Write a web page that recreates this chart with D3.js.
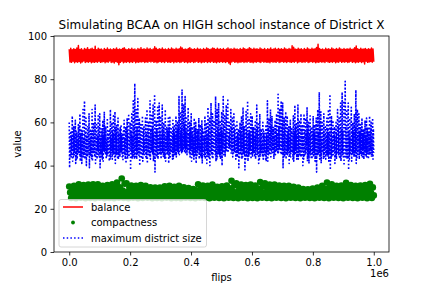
<!DOCTYPE html>
<html>
<head>
<meta charset="utf-8">
<script src="https://cdn.jsdelivr.net/npm/d3@7"></script>
<style>
  html, body { margin: 0; padding: 0; background: #fff; }
  svg { display: block; font-family: "DejaVu Sans", sans-serif; }
</style>
</head>
<body>
<svg id="chart" width="432" height="288"></svg>
<script>
const titleText = "Simulating BCAA on HIGH school instance of District X";
const xLabel = "flips";
const yLabel = "value";
const xTicks = [0, 200000, 400000, 600000, 800000, 1000000];
const yTicks = [0, 20, 40, 60, 80, 100];
const seriesNames = ["balance", "compactness", "maximum district size"];
const maxFlips = 1000000;

const balance = [
  93.9,88.0, 94.3,87.8, 93.6,88.3, 94.1,87.6, 93.8,88.1, 94.4,87.9, 95.6,88.2, 93.7,87.5, 94.1,88.0, 93.5,88.4,
  94.2,87.7, 93.9,88.1, 94.6,87.9, 93.7,88.2, 94.0,87.6, 94.3,88.0, 93.8,87.8, 95.2,88.1, 93.6,87.9, 94.3,88.3,
  93.9,87.8, 94.0,88.0, 93.5,88.2, 94.2,87.6, 93.8,88.1, 94.4,87.9, 93.7,88.4, 94.0,87.7, 93.6,88.0, 94.1,87.5,
  93.9,88.2, 94.5,87.9, 93.7,86.7, 94.0,87.8, 93.8,88.3, 94.2,87.6, 94.6,88.0, 93.9,87.9, 93.6,88.2, 94.1,87.7,
  93.8,88.1, 94.3,87.8, 93.7,88.3, 94.0,87.6, 93.5,88.0, 94.2,87.9, 93.9,88.1, 94.6,88.0, 93.8,88.2, 94.1,87.7,
  93.7,88.1, 94.4,87.9, 93.9,88.3, 94.2,88.0, 93.6,88.3, 94.0,87.8, 95.0,88.1, 94.3,87.6, 93.7,88.0, 94.1,88.2,
  93.9,87.9, 94.5,88.1, 93.8,87.7, 94.0,88.3, 93.6,87.9, 94.2,88.0, 93.8,87.8, 94.4,88.2, 94.0,87.6, 93.7,88.1,
  94.3,87.9, 93.9,88.2, 94.1,87.7, 94.9,88.0, 94.4,88.3, 93.8,87.8, 94.0,88.1, 93.7,87.6, 94.2,88.0, 94.6,87.9,
  94.0,88.2, 93.8,87.7, 94.1,88.0, 93.7,88.3, 94.3,87.8, 93.9,88.1, 94.0,87.6, 93.6,88.0, 94.2,87.9, 93.8,88.2,
  94.5,87.7, 94.1,88.1, 93.7,87.9, 94.0,88.3, 94.4,87.8, 94.2,88.0, 93.8,87.6, 94.3,88.1, 93.9,87.9, 94.1,88.2,
  93.8,87.9, 94.2,88.1, 93.6,87.7, 94.0,88.2, 94.5,87.5, 93.9,86.8, 94.1,88.0, 93.7,88.3, 94.3,87.8, 93.9,88.1,
  94.0,87.6, 93.6,88.0, 94.2,87.9, 93.8,88.2, 94.4,87.7, 94.1,88.1, 93.7,87.9, 94.0,88.3, 94.6,87.8, 94.2,88.0,
  93.8,87.6, 94.3,88.1, 93.9,87.9, 94.1,88.2, 93.7,88.0, 94.4,87.7, 94.0,88.3, 93.8,87.9, 94.2,88.1, 93.6,87.8,
  94.1,88.0, 93.9,87.6, 94.5,88.2, 93.8,87.9, 94.0,88.1, 94.3,87.8, 93.7,88.3, 94.2,87.7, 93.9,88.0, 94.1,88.2,
  93.8,87.9, 94.4,88.1, 94.0,87.7, 93.7,88.2, 94.2,88.0, 93.9,87.8, 95.5,88.1, 94.8,87.9, 94.0,88.3, 93.8,87.6,
  94.3,88.0, 93.9,88.2, 94.1,87.8, 93.6,88.1, 94.2,87.9, 93.8,88.3, 94.5,87.7, 94.0,88.0, 93.7,88.2, 94.3,87.9,
  93.9,88.1, 94.1,87.6, 94.7,88.0, 96.2,87.8, 94.2,88.2, 93.8,87.9, 94.0,88.1, 93.6,87.7, 94.3,88.3, 93.9,88.0,
  94.1,87.8, 93.7,88.1, 94.4,87.9, 94.0,88.2, 93.8,87.6, 94.2,88.0, 93.9,87.9, 94.5,88.3, 94.0,87.8, 93.7,88.1,
  94.2,87.9, 93.8,88.2, 94.1,87.7, 93.9,88.0, 94.3,88.3, 93.7,87.8, 94.0,88.1, 94.6,87.6, 95.4,88.0, 94.1,87.9,
  93.8,88.2, 94.3,87.7, 93.9,88.1, 94.0,87.0, 94.2,88.3, 93.7,87.8, 94.1,88.0, 93.9,88.2, 94.4,87.9, 94.0,88.1
];

const compactness = [
  30.3,27.5,25.0,29.2,26.2, 30.6,27.7,24.9,29.4,26.4, 31.4,27.4,25.1,29.6,26.1, 31.0,27.8,24.9,29.3,26.4,
  31.2,27.5,25.0,29.6,26.2, 31.4,27.7,24.9,29.4,26.3, 31.4,27.4,25.1,29.7,26.1, 30.6,27.8,24.9,29.2,26.4,
  31.0,27.5,25.0,29.5,26.2, 31.4,27.7,24.9,29.8,26.4, 32.1,27.9,25.1,30.0,26.2, 34.0,28.4,25.0,31.6,26.6,
  31.8,27.8,24.9,29.9,26.3, 30.8,27.5,25.1,29.4,26.1, 30.6,27.4,24.9,29.3,26.4, 31.0,27.7,25.0,29.6,26.2,
  30.6,27.4,25.1,29.3,26.3, 30.0,27.6,24.9,29.0,26.1, 29.8,27.3,25.0,28.8,26.4, 29.8,27.5,24.9,28.9,26.2,
  30.4,27.7,25.1,29.2,26.3, 30.6,27.4,24.9,29.4,26.1, 30.2,27.6,25.0,29.1,26.4, 30.6,27.8,24.9,29.3,26.2,
  30.0,27.4,25.1,29.0,26.4, 29.6,27.5,25.0,28.8,26.2, 29.2,27.3,24.9,28.6,26.3, 31.4,27.7,25.1,29.6,26.1,
  30.8,27.5,25.0,29.4,26.3, 30.6,27.4,24.9,29.3,26.2, 31.2,27.8,25.1,29.7,26.4, 30.2,27.5,25.0,29.1,26.2,
  30.4,27.6,24.9,29.2,26.3, 30.8,27.4,25.1,29.5,26.1, 33.0,28.2,25.0,30.8,26.5, 31.8,27.8,24.9,30.0,26.3,
  31.2,27.5,25.1,29.7,26.2, 31.0,27.7,24.9,29.5,26.4, 31.2,27.4,25.0,29.8,26.2, 30.8,27.6,24.9,29.4,26.3,
  32.4,27.9,25.1,30.4,26.1, 31.8,27.7,25.0,30.0,26.3, 31.2,27.4,24.9,29.7,26.2, 31.2,27.8,25.1,29.8,26.4,
  30.8,27.4,25.0,29.4,26.2, 30.6,27.5,24.9,29.3,26.3, 30.6,27.7,25.1,29.2,26.1, 30.2,27.4,25.0,29.0,26.3,
  29.8,27.3,24.9,28.8,26.2, 29.2,27.1,25.1,28.5,26.3, 29.0,27.2,25.0,28.4,26.1, 29.4,27.3,24.9,28.6,26.3,
  29.8,27.5,25.1,28.9,26.2, 30.6,27.6,25.0,29.3,26.4, 32.2,27.9,24.9,30.2,26.3, 31.4,27.7,25.1,29.8,26.2,
  30.6,27.4,25.0,29.4,26.3, 30.8,27.6,24.9,29.5,26.1, 32.0,27.9,25.1,30.1,26.4, 31.0,27.5,25.0,29.6,26.2,
  30.6,27.4,24.9,29.4,26.4, 30.8,27.6,25.1,29.5,26.2, 31.0,27.8,24.9,29.7,26.3, 31.6,27.5,25.0,29.9,26.2
];

const maxDistrictSize = [
  60,39,55,45, 56,44,53,47, 63,42,57,44, 58,45,54,46, 61,41,56,43, 55,43,52,46, 59,46,58,45, 64,42,54,44, 57,41,56,47, 66,44,53,45,
  70,43,56,46, 62,40,54,44, 58,45,57,47, 64,39,53,45, 57,44,55,43, 66,42,58,46, 60,46,52,44, 68,41,56,45, 59,43,54,47, 63,45,57,44,
  64,39,53,46, 57,44,56,43, 61,42,54,47, 65,46,58,45, 58,43,52,44, 62,45,55,46, 56,42,57,43, 66,44,53,47, 60,43,56,45, 63,46,54,44,
  65,41,57,45, 59,45,53,43, 62,43,55,46, 57,44,58,47, 59,46,54,44, 55,42,56,45, 61,45,52,43, 58,41,57,46, 62,43,55,44, 64,44,53,47,
  60,38,56,46, 64,43,54,44, 70,45,58,43, 78,44,55,47, 66,43,57,45, 71,46,53,44, 62,40,56,46, 59,44,54,43, 63,42,57,45, 58,45,52,47,
  62,44,55,43, 66,41,57,46, 60,45,53,44, 70,43,56,47, 64,46,58,45, 68,42,54,43, 73,37,55,46, 61,44,57,44, 67,43,53,47, 69,45,56,45,
  63,43,54,46, 68,46,57,44, 60,44,55,43, 66,42,53,47, 58,45,56,45, 62,41,58,44, 63,44,52,46, 57,46,55,43, 61,43,57,47, 59,45,54,45,
  63,44,56,47, 60,46,58,45, 72,45,55,48, 65,47,57,46, 75,46,54,47, 68,48,59,46, 72,46,56,48, 62,45,58,47, 67,47,55,46, 60,44,57,47,
  64,42,55,45, 58,45,53,43, 62,44,57,46, 60,41,54,44, 57,46,56,47, 62,43,52,45, 59,44,55,43, 61,41,57,46, 56,45,53,44, 63,43,56,47,
  60,41,54,45, 67,44,57,43, 62,40,55,46, 69,45,58,44, 64,43,53,47, 61,46,56,45, 72,42,54,43, 66,44,57,46, 69,45,55,44, 61,43,58,47,
  65,40,56,46, 72,45,58,48, 63,44,55,47, 68,47,57,46, 71,46,54,48, 60,48,56,47, 66,45,58,46, 62,44,55,45, 64,46,57,47, 59,43,53,45,
  61,44,55,46, 57,39,53,43, 60,45,56,47, 63,43,54,44, 67,46,58,45, 58,38,52,43, 65,44,57,46, 70,42,55,44, 62,45,56,47, 64,43,54,45,
  63,44,57,46, 58,46,54,44, 61,43,56,47, 68,45,58,45, 60,41,53,43, 64,44,55,46, 57,46,52,44, 60,43,56,47, 55,45,53,43, 59,42,54,46,
  70,42,57,45, 62,45,55,47, 66,44,58,46, 63,46,56,48, 58,43,54,45, 61,45,57,47, 64,47,55,46, 73,46,58,48, 66,47,56,46, 70,45,57,47,
  69,39,55,44, 62,44,57,46, 65,43,54,45, 63,45,56,47, 58,41,53,44, 61,44,57,46, 57,46,55,43, 63,42,56,45, 68,45,58,47, 60,43,54,44,
  68,43,56,46, 61,45,54,44, 64,44,57,47, 59,40,53,43, 64,44,56,45, 62,46,55,47, 67,42,58,44, 60,41,54,46, 63,45,57,43, 58,43,55,46,
  63,44,56,46, 59,42,54,44, 62,37,57,45, 66,45,55,47, 74,43,58,44, 65,41,53,46, 60,46,56,43, 64,44,55,47, 58,43,54,45, 62,45,57,44,
  66,42,55,45, 73,38,57,43, 63,44,54,46, 61,45,56,47, 58,41,53,44, 60,43,55,46, 66,46,58,45, 62,44,54,43, 69,42,57,46, 74,45,56,44,
  70,40,55,45, 79,44,58,46, 66,43,54,44, 69,38,56,43, 62,45,53,47, 67,42,57,45, 60,46,55,44, 64,44,58,46, 75,41,54,43, 66,45,56,47,
  64,43,55,46, 59,45,57,44, 62,44,54,47, 57,43,56,45, 61,46,53,44, 62,44,57,46, 58,43,55,45, 63,45,56,47, 60,44,54,44, 62,43,57,46
];

// ---------- layout ----------
const svg = d3.select("#chart");
const mLeft = 54, mRight = 389, mTop = 36, mBottom = 252;

const x = d3.scaleLinear().domain([-50000, 1050000]).range([mLeft, mRight]);
const y = d3.scaleLinear().domain([0, 100]).range([mBottom, mTop]);

const flipsOf = (arr) => arr.map((v, i) => ({ f: i * maxFlips / (arr.length - 1), v }));

const plot = svg.append("g");
plot.append("clipPath").attr("id", "clip")
  .append("rect").attr("x", mLeft).attr("y", mTop).attr("width", mRight - mLeft).attr("height", mBottom - mTop);
const dataG = plot.append("g").attr("clip-path", "url(#clip)");

const line = d3.line().x(d => x(d.f)).y(d => y(d.v));

// balance (red solid)
dataG.append("path").datum(flipsOf(balance))
  .attr("d", line).attr("fill", "none").attr("stroke", "#ff0000")
  .attr("stroke-width", 1.5).attr("stroke-linejoin", "round");

// compactness (green dots)
dataG.append("g").selectAll("circle").data(flipsOf(compactness)).join("circle")
  .attr("cx", d => x(d.f)).attr("cy", d => y(d.v)).attr("r", 3.3)
  .attr("fill", "#008000");

// maximum district size (blue dotted)
const dotPattern = "1.6,2";
dataG.append("path").datum(flipsOf(maxDistrictSize))
  .attr("d", line).attr("fill", "none").attr("stroke", "#0000ff")
  .attr("stroke-width", 1.6).attr("stroke-linejoin", "round")
  .attr("stroke-dasharray", dotPattern);

// ---------- axes ----------
const xAxis = svg.append("g").attr("transform", `translate(0,${mBottom})`)
  .call(d3.axisBottom(x).tickValues(xTicks).tickSize(3.5).tickPadding(3.5)
    .tickFormat(d => (d / 1e6).toFixed(1)));
const yAxis = svg.append("g").attr("transform", `translate(${mLeft},0)`)
  .call(d3.axisLeft(y).tickValues(yTicks).tickSize(3.5).tickPadding(3.5)
    .tickFormat(d3.format("d")));
[xAxis, yAxis].forEach(g => {
  g.select(".domain").remove();
  g.selectAll(".tick line").attr("stroke", "#000").attr("stroke-width", 0.8);
  g.selectAll(".tick text").attr("fill", "#000").style("font-size", "10px")
    .style("font-family", "DejaVu Sans, sans-serif");
});

// spines
svg.append("rect").attr("x", mLeft).attr("y", mTop).attr("width", mRight - mLeft).attr("height", mBottom - mTop)
  .attr("fill", "none").attr("stroke", "#000").attr("stroke-width", 0.8);

// labels
svg.append("text").attr("x", (mLeft + mRight) / 2).attr("y", 29).attr("text-anchor", "middle")
  .style("font-size", "12px").attr("fill", "#000").text(titleText);
svg.append("text").attr("x", (mLeft + mRight) / 2).attr("y", 281).attr("text-anchor", "middle")
  .style("font-size", "10px").attr("fill", "#000").text(xLabel);
svg.append("text").attr("transform", `translate(21,${(mTop + mBottom) / 2}) rotate(-90)`)
  .attr("text-anchor", "middle").style("font-size", "10px").attr("fill", "#000").text(yLabel);
svg.append("text").attr("x", mRight).attr("y", 277).attr("text-anchor", "end")
  .style("font-size", "10px").attr("fill", "#000").text("1e6");

// ---------- legend ----------
const lg = svg.append("g");
lg.append("rect").attr("x", 59).attr("y", 199.5).attr("width", 147.5).attr("height", 47.5)
  .attr("rx", 2).attr("fill", "#fff").attr("fill-opacity", 0.8)
  .attr("stroke", "#cccccc").attr("stroke-width", 0.8);
const rowY = [207, 222.5, 238];
lg.append("line").attr("x1", 63).attr("x2", 83).attr("y1", rowY[0]).attr("y2", rowY[0])
  .attr("stroke", "#ff0000").attr("stroke-width", 1.5);
lg.append("circle").attr("cx", 73).attr("cy", rowY[1]).attr("r", 1.9).attr("fill", "#008000");
lg.append("line").attr("x1", 63).attr("x2", 83).attr("y1", rowY[2]).attr("y2", rowY[2])
  .attr("stroke", "#0000ff").attr("stroke-width", 1.5).attr("stroke-dasharray", "1.5,2.2");
seriesNames.forEach((n, i) => {
  lg.append("text").attr("x", 91).attr("y", rowY[i]).attr("dy", "0.35em")
    .style("font-size", "10px").attr("fill", "#000").text(n);
});
</script>
</body>
</html>
